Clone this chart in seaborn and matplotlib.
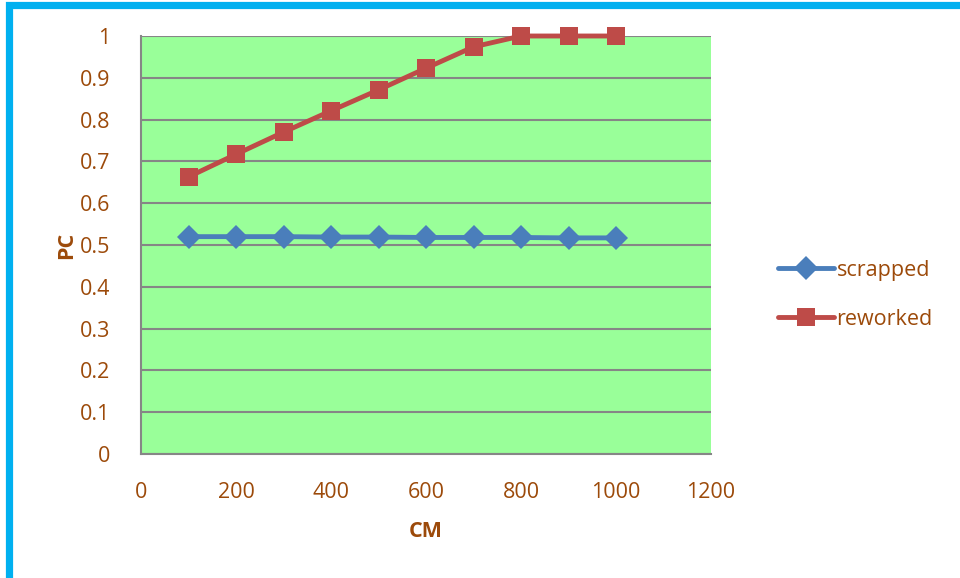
import matplotlib
matplotlib.use("Agg")
import matplotlib.pyplot as plt
import seaborn as sns
import pandas as pd
from matplotlib.patches import Rectangle
from matplotlib.lines import Line2D

cm_values = [100, 200, 300, 400, 500, 600, 700, 800, 900, 1000]
scrapped = [0.520, 0.520, 0.520, 0.519, 0.519, 0.518, 0.518, 0.518, 0.517, 0.517]
reworked = [0.663, 0.717, 0.770, 0.821, 0.871, 0.923, 0.974, 1.0, 1.0, 1.0]
series_names = ["scrapped", "reworked"]
x_ticks = [0, 200, 400, 600, 800, 1000, 1200]
y_ticks = [0, 0.1, 0.2, 0.3, 0.4, 0.5, 0.6, 0.7, 0.8, 0.9, 1]

df = pd.DataFrame({
    "CM": cm_values * 2,
    "PC": scrapped + reworked,
    "series": [series_names[0]] * len(cm_values) + [series_names[1]] * len(cm_values),
})

sns.set_theme(style="white")
plt.rcParams["font.family"] = ["Open Sans", "DejaVu Sans"]

text_color = "#9C4A0A"
colors = {"scrapped": "#4A7EBB", "reworked": "#BE4B48"}
markers = {"scrapped": "D", "reworked": "s"}
msize = {"scrapped": 12, "reworked": 13}

fig = plt.figure(figsize=(9.6, 5.78), dpi=100)
fig.patch.set_facecolor("white")

# frame along the top and left edges of the figure
fig.patches.append(Rectangle((8.5 / 960, -0.1), 1.2, 1.1 - 5.5 / 578,
                             transform=fig.transFigure, fill=False,
                             edgecolor="#00B0F0", linewidth=5.2, zorder=0))

ax = fig.add_axes([141 / 960, 1 - 454 / 578, 570 / 960, 418 / 578])
ax.set_facecolor("#99FF99")

for name in series_names:
    sub = df[df["series"] == name]
    sns.lineplot(data=sub, x="CM", y="PC", ax=ax, color=colors[name],
                 marker=markers[name], markersize=msize[name],
                 markeredgewidth=0, linewidth=3.5, legend=False, zorder=3,
                 clip_on=False)

ax.set_xlim(0, 1200)
ax.set_ylim(0, 1)
ax.set_xticks(x_ticks)
ax.set_xticklabels([str(v) for v in x_ticks])
ax.set_yticks(y_ticks)
ax.set_yticklabels([f"{v:g}" for v in y_ticks])
ax.yaxis.grid(True, color="#868686", linewidth=1.5)
ax.xaxis.grid(False)
ax.set_axisbelow(True)

for side in ["top", "right"]:
    ax.spines[side].set_visible(False)
for side in ["left", "bottom"]:
    ax.spines[side].set_color("#868686")
    ax.spines[side].set_linewidth(1.5)

ax.tick_params(axis="both", length=0, labelsize=15.5, labelcolor=text_color)
ax.tick_params(axis="y", pad=22)
ax.tick_params(axis="x", pad=20)

ax.set_xlabel("CM", fontsize=15.5, fontweight="bold", color=text_color, labelpad=13)
ax.set_ylabel("PC", fontsize=15.5, fontweight="bold", color=text_color, labelpad=2)

handles = [
    Line2D([0], [0], color=colors[n], marker=markers[n], linewidth=3.5,
           markersize=msize[n], markeredgewidth=0)
    for n in series_names
]
fig.legend(handles, series_names, loc="center left",
           bbox_to_anchor=(759 / 960, 1 - 295 / 578), frameon=False,
           fontsize=15.5, labelcolor=text_color, handlelength=2.6,
           handletextpad=0.1, labelspacing=1.3)

fig.savefig("out.png", dpi=100, facecolor="white")
